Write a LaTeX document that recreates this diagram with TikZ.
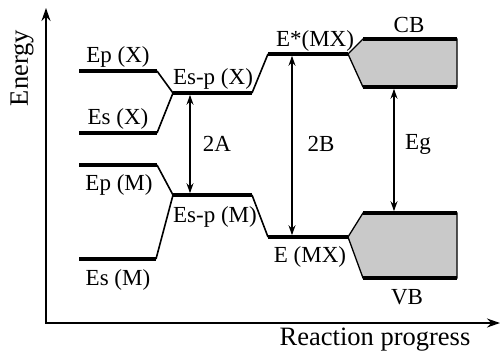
\documentclass[tikz,border=0pt]{standalone}
\usepackage{fontspec}
\setmainfont{Liberation Serif}
\usetikzlibrary{arrows.meta}
\begin{document}
\begin{tikzpicture}[x=1pt,y=-1pt,
  level/.style={line width=3.6pt},
  link/.style={line width=1.6pt, line join=miter},
  lbl/.style={font=\fontsize{23}{26}\selectfont, inner sep=0pt},
  axlbl/.style={font=\fontsize{26.5}{30}\selectfont, inner sep=0pt},
  dbl/.style={line width=1.3pt, shorten <=1.8pt, shorten >=1.8pt,
    {Stealth[length=10pt,width=7pt]}-{Stealth[length=10pt,width=7pt]}},
  axis/.style={line width=1.8pt, line join=miter,
    {Stealth[length=13pt,width=9pt]}-{Stealth[length=13pt,width=9pt]}},
  band/.style={fill=black!21, draw=black, line width=1.3pt, line join=miter}]
\useasboundingbox (0,0) rectangle (501,354);

% axes
\coordinate (ytop) at (46,8);
\coordinate (O) at (46,323);
\coordinate (xend) at (500,323);
\draw[axis] (ytop) -- (O) -- (xend);
\node[axlbl, rotate=90] (energy) at (22,68) {Energy};
\node[axlbl] (progress) at (375,340) {Reaction progress};

% X levels
\coordinate (epx1) at (79,71);   \coordinate (epx2) at (157,71);
\coordinate (esx1) at (79,133);  \coordinate (esx2) at (157,133);
\coordinate (espx1) at (173,93); \coordinate (espx2) at (252,93);
% M levels
\coordinate (epm1) at (79,165);  \coordinate (epm2) at (157,165);
\coordinate (esm1) at (79,259);  \coordinate (esm2) at (156,259);
\coordinate (espm1) at (173,195); \coordinate (espm2) at (252,195);
% MX levels
\coordinate (estar1) at (268,54); \coordinate (estar2) at (348,54);
\coordinate (emx1) at (268,237);  \coordinate (emx2) at (348,237);

% bands
\draw[band] (estar2) -- (363,39) -- (457,39) -- (457,87) -- (363,87) -- cycle;
\draw[band] (emx2) -- (363,213) -- (457,213) -- (457,278) -- (363,278) -- cycle;
\draw[level] (363,39) -- (457,39);
\draw[level] (363,87) -- (457,87);
\draw[level] (363,213) -- (457,213);
\draw[level] (363,278) -- (457,278);

% links
\draw[link] (epx2) -- (espx1) -- (esx2);
\draw[link] (epm2) -- (espm1) -- (esm2);
\draw[link] (espx2) -- (estar1);
\draw[link] (espm2) -- (emx1);

% levels
\draw[level] (epx1) -- (epx2);
\draw[level] (esx1) -- (esx2);
\draw[level] (espx1) -- (espx2);
\draw[level] (epm1) -- (epm2);
\draw[level] (esm1) -- (esm2);
\draw[level] (espm1) -- (espm2);
\draw[level] (estar1) -- (estar2);
\draw[level] (emx1) -- (emx2);

% transition arrows
\coordinate (a2top) at (190,93);  \coordinate (a2bot) at (190,195);
\coordinate (b2top) at (292,54);  \coordinate (b2bot) at (292,237);
\coordinate (egtop) at (394,87);  \coordinate (egbot) at (394,213);
\draw[dbl] (a2top) -- (a2bot);
\draw[dbl] (b2top) -- (b2bot);
\draw[dbl] (egtop) -- (egbot);

% labels
\node[lbl] (lepx) at (118,57) {Ep (X)};
\node[lbl] (lesx) at (118,119) {Es (X)};
\node[lbl] (lespx) at (213,79) {Es-p (X)};
\node[lbl] (lepm) at (119,185) {Ep (M)};
\node[lbl] (lespm) at (215,217) {Es-p (M)};
\node[lbl] (lesm) at (118,280) {Es (M)};
\node[lbl] (lestar) at (315,41) {E*(MX)};
\node[lbl] (lemx) at (310,257) {E (MX)};
\node[lbl] (lcb) at (409,25) {CB};
\node[lbl] (lvb) at (407,297) {VB};
\node[lbl] (l2a) at (217,144) {2A};
\node[lbl] (l2b) at (321,144) {2B};
\node[lbl] (leg) at (418,144) {Eg};
\end{tikzpicture}
\end{document}
